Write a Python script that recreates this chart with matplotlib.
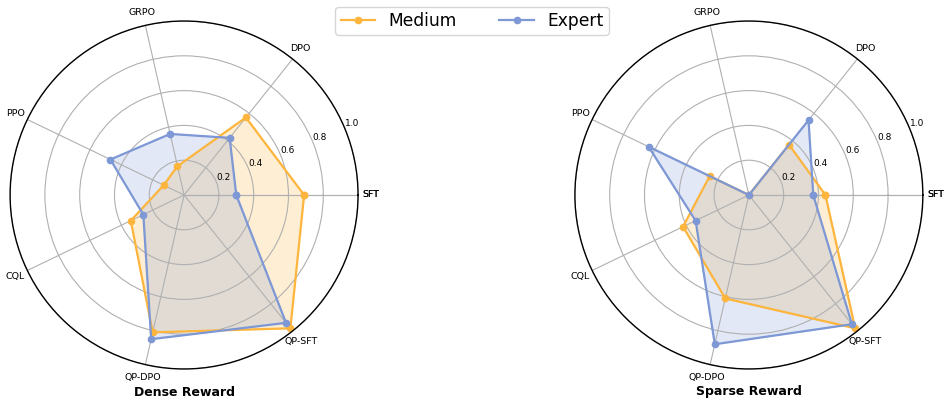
import numpy as np
import matplotlib.pyplot as plt

categories = ["SFT", "DPO", "GRPO", "PPO", "CQL", "QP-DPO", "QP-SFT"]
dense_medium = [0.69, 0.57, 0.17, 0.13, 0.34, 0.81, 0.98]
dense_expert = [0.30, 0.42, 0.36, 0.47, 0.26, 0.85, 0.94]
sparse_medium = [0.44, 0.37, 0.0, 0.25, 0.42, 0.61, 0.98]
sparse_expert = [0.37, 0.55, 0.0, 0.64, 0.34, 0.88, 0.95]
panel_titles = ["Dense Reward", "Sparse Reward"]
series_names = ["Medium", "Expert"]

c_medium = "#FDB53D"
c_expert = "#7D98D5"

n = len(categories)
angles = np.linspace(0, 2 * np.pi, n, endpoint=False)
closed = np.append(angles, angles[0])

fig = plt.figure(figsize=(9.44, 4.0), dpi=100)
boxes = [[0.0107, 0.0775, 0.3686, 0.87], [0.609, 0.0775, 0.3686, 0.87]]
panels = [(dense_medium, dense_expert), (sparse_medium, sparse_expert)]

handles = []
for box, (med, exp), title in zip(boxes, panels, panel_titles):
    ax = fig.add_axes(box, projection="polar")
    for vals, col, name in [(med, c_medium, series_names[0]), (exp, c_expert, series_names[1])]:
        v = np.append(vals, vals[0])
        ln, = ax.plot(closed, v, color=col, lw=1.6, marker="o", ms=4.5, label=name)
        ax.fill(closed, v, color=col, alpha=0.22)
        if len(handles) < 2:
            handles.append(ln)
    ax.set_ylim(0, 1.0)
    ax.set_yticks([0.2, 0.4, 0.6, 0.8, 1.0])
    ax.set_yticklabels(["0.2", "0.4", "0.6", "0.8", "1.0"], fontsize=6.5)
    ax.set_rlabel_position(22.5)
    # first label sits at both 0 and 2*pi
    ax.set_thetagrids(np.degrees(closed), categories + [categories[0]], fontsize=6.8)
    ax.tick_params(axis="x", pad=-1)
    ax.grid(color="#b0b0b0", lw=0.8)
    ax.spines["polar"].set_color("black")
    ax.spines["polar"].set_linewidth(1.0)
    cx = box[0] + box[2] / 2
    fig.text(cx, 0.02, title, ha="center", va="center", fontsize=9, fontweight="bold")

fig.legend(handles, series_names, loc="upper center", ncol=2, fontsize=12.3,
           bbox_to_anchor=(0.5, 1.005), frameon=True, handlelength=2.0,
           columnspacing=2.5, borderpad=0.3)

fig.savefig("out.png", dpi=100)
